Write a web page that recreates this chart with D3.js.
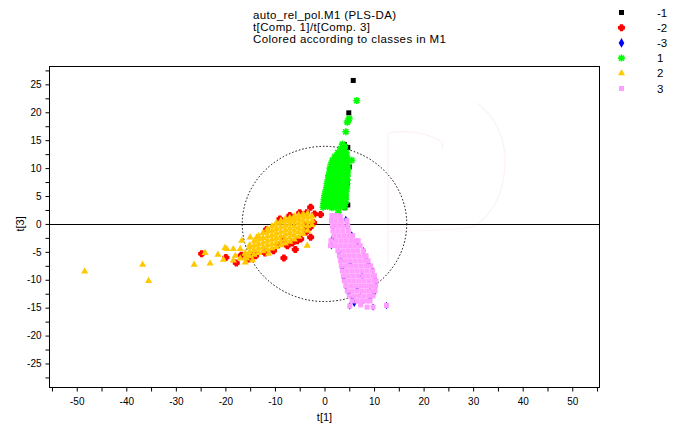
<!DOCTYPE html>
<html><head><meta charset="utf-8">
<script src="https://cdn.jsdelivr.net/npm/d3@7"></script>
<style>body{margin:0;background:#fff} svg{display:block} text{font-family:"Liberation Sans",Arial,sans-serif;fill:#000}</style>
</head><body><svg id="c" width="678" height="427"></svg>
<script>
// ---------- data ----------
const titleLines = ["auto_rel_pol.M1 (PLS-DA)", "t[Comp. 1]/t[Comp. 3]", "Colored according to classes in M1"];
const xLabel = "t[1]";
const yLabel = "t[3]";
const classLabels = ["-1", "-2", "-3", "1", "2", "3"];
const xTickLabels = [-50, -40, -30, -20, -10, 0, 10, 20, 30, 40, 50];
const yTickLabels = [25, 20, 15, 10, 5, 0, -5, -10, -15, -20, -25];
const ellipseRadii = [16.6, 13.9];

const classNeg1 = [[5.8,25.7],[4.9,19.9],[4.0,14.2],[4.7,13.7],[2.3,11.4],[1.8,11.3],[5.0,10.2],[4.3,4.8],[4.1,2.9],[0.6,6.3],[4.6,7.2],[0.4,5.4],[3.9,12.6],[4.7,3.4],[0.1,4.2]];
const classNeg2 = [[-24.8,-5.35],[-19.9,-6.0],[-8.2,-6.1],[-5.9,-4.6],[-2.8,-2.4],[-2.8,3.0],[-0.8,1.7],[-11.7,-1.0],[-14.4,-5.7],[-3.9,-0.3],[-2.9,-0.6],[-5.5,-3.0],[-10.3,-4.8],
  [-9.3,-3.7],[-7.5,-3.9],[-6.5,-3.4],[-8.2,-2.9],[-4.8,-2.7],[-12.0,-5.2],[-3.8,-1.5],[-2.2,0.2],[-2.0,1.8],[-3.6,2.0],[-5.0,2.0],[-13.9,-5.7],[-15.2,-6.3],[-17.8,-7.0],[-16.8,-5.6],[-7.0,1.5],[-9.0,0.9]];
const classNeg3 = [[1.5,1.3],[1.7,-0.5],[1.6,-2.6],[1.4,-3.9],[2.9,-5.0],[3.3,-6.5],[3.6,-8.0],[3.9,-9.8],[4.3,-11.2],[4.9,-12.6],[5.6,-13.5],[6.0,-14.2],[7.6,-14.0],[9.2,-13.5],[10.0,-12.4],[10.4,-11.0],[10.2,-9.6],[9.7,-8.3],[8.9,-7.2],[8.4,-6.0],[7.9,-4.8],[6.7,-3.2],[5.5,-2.0],[4.6,-0.4],[4.3,0.8],[2.9,1.6],[12.5,-14.6],[9.8,-14.9],[5.1,-14.7],[6.6,-11.7],[7.6,-9.3],[5.2,-7.0]];
const class1 = [
  [-0.3,3.0],[0.6,3.1],[1.5,2.9],[2.3,3.0],[3.2,3.1],[4.0,3.0],
  [-0.2,3.7],[0.7,3.8],[1.6,3.6],[2.5,3.7],[3.4,3.8],[4.2,3.7],
  [-0.1,4.4],[0.8,4.5],[1.7,4.3],[2.6,4.4],[3.5,4.5],[4.3,4.4],
  [0.0,5.1],[0.9,5.2],[1.8,5.0],[2.7,5.1],[3.5,5.2],[4.3,5.1],
  [0.2,5.8],[1.1,5.9],[2.0,5.7],[2.9,5.8],[3.7,5.9],[4.4,5.8],
  [0.4,6.5],[1.3,6.6],[2.2,6.4],[3.0,6.5],[3.8,6.6],[4.5,6.5],
  [0.5,7.2],[1.4,7.3],[2.3,7.1],[3.1,7.2],[3.9,7.3],[4.5,7.2],
  [0.7,7.9],[1.6,8.0],[2.4,7.8],[3.2,7.9],[4.0,8.0],[4.6,7.9],
  [0.8,8.6],[1.7,8.7],[2.5,8.5],[3.3,8.6],[4.0,8.7],[4.6,8.6],
  [1.0,9.3],[1.9,9.4],[2.7,9.2],[3.5,9.3],[4.2,9.4],[4.7,9.3],
  [1.1,10.0],[2.0,10.1],[2.8,9.9],[3.6,10.0],[4.3,10.1],[4.7,10.0],
  [1.3,10.7],[2.2,10.8],[3.0,10.6],[3.8,10.7],[4.7,10.7],
  [1.6,11.4],[2.5,11.5],[3.3,11.3],[4.1,11.4],[4.6,11.5],
  [2.1,12.1],[2.9,12.2],[3.7,12.0],[4.5,12.1],
  [2.7,12.8],[3.5,12.9],[4.4,12.8],
  [3.3,13.5],[4.0,13.6],
  [4.1,13.9],[2.5,12.0],[5.5,11.4],[4.3,16.5],[4.8,18.5],[4.6,18.2],[5.0,18.9],[6.5,22.1],[2.8,2.1],[3.6,14.3]];
const class2 = [
  [-16.0,-6.0],[-16.0,-5.2],
  [-15.1,-5.8],[-15.1,-5.0],[-15.1,-4.2],[-15.1,-3.8],
  [-14.2,-5.5],[-14.2,-4.7],[-14.2,-3.9],[-14.2,-3.1],
  [-13.3,-5.2],[-13.3,-4.4],[-13.3,-3.6],[-13.3,-2.8],[-13.3,-2.2],
  [-12.4,-4.9],[-12.4,-4.1],[-12.4,-3.3],[-12.4,-2.5],[-12.4,-1.6],
  [-11.5,-4.6],[-11.5,-3.8],[-11.5,-3.0],[-11.5,-2.2],[-11.5,-1.4],[-11.5,-0.9],
  [-10.6,-4.4],[-10.6,-3.6],[-10.6,-2.8],[-10.6,-2.0],[-10.6,-1.2],[-10.6,-0.4],
  [-9.7,-4.1],[-9.7,-3.3],[-9.7,-2.5],[-9.7,-1.7],[-9.7,-0.9],[-9.7,-0.1],[-9.7,0.2],
  [-8.8,-3.8],[-8.8,-3.0],[-8.8,-2.2],[-8.8,-1.4],[-8.8,-0.6],[-8.8,0.2],[-8.8,0.6],
  [-7.9,-3.5],[-7.9,-2.7],[-7.9,-1.9],[-7.9,-1.1],[-7.9,-0.3],[-7.9,0.5],[-7.9,0.9],
  [-7.0,-3.2],[-7.0,-2.4],[-7.0,-1.6],[-7.0,-0.8],[-7.0,0.0],[-7.0,0.7],[-7.0,1.1],
  [-6.1,-2.8],[-6.1,-2.0],[-6.1,-1.2],[-6.1,-0.4],[-6.1,0.4],[-6.1,1.0],[-6.1,1.4],
  [-5.2,-2.3],[-5.2,-1.5],[-5.2,-0.7],[-5.2,0.1],[-5.2,0.9],[-5.2,1.6],
  [-4.3,-1.8],[-4.3,-1.0],[-4.3,-0.2],[-4.3,0.6],[-4.3,1.3],[-4.3,1.8],
  [-3.4,-1.2],[-3.4,-0.4],[-3.4,0.4],[-3.4,1.2],[-3.4,1.9],
  [-2.5,-0.2],[-2.5,0.6],[-2.5,1.4],
  [-48.4,-8.5],[-36.7,-7.3],[-35.5,-10.2],[-26.3,-7.3],[-23.1,-7.1],[-24.1,-5.2],[-20.4,-6.4],[-20.1,-4.3],[-18.4,-4.5],[-16.7,-3.0],[-16.0,-5.35],[-15.0,-2.4],[-13.7,-2.4],[-3.5,-3.9],[-11.3,-5.35],[-17.0,-6.2],[-18.4,-6.55],[-16.0,-6.9],[-17.0,-4.5],[-18.0,-5.7],[-19.7,-4.5],[-15.7,-6.2],[-21.5,-5.5],[-14.5,-6.5]];
const class3 = [
  [1.5,1.5],[2.4,1.5],[3.2,1.4],
  [1.4,0.6],[2.4,0.6],[3.4,0.6],[4.5,0.6],
  [1.6,-0.3],[2.6,-0.3],[3.6,-0.3],[4.7,-0.3],
  [1.7,-1.2],[2.7,-1.2],[3.7,-1.2],[4.8,-1.2],
  [1.9,-2.1],[2.9,-2.1],[3.9,-2.1],[4.9,-2.1],[5.7,-2.1],
  [1.3,-3.0],[2.3,-3.0],[3.3,-3.0],[4.3,-3.0],[5.3,-3.0],[6.2,-3.0],[6.8,-3.0],
  [1.2,-3.9],[2.2,-3.9],[3.2,-3.9],[4.2,-3.9],[5.2,-3.9],[6.2,-3.9],[7.2,-3.9],
  [2.7,-4.8],[3.7,-4.8],[4.7,-4.8],[5.7,-4.8],[6.7,-4.8],[7.8,-4.8],
  [3.0,-5.7],[4.0,-5.7],[5.0,-5.7],[6.0,-5.7],[7.0,-5.7],[8.0,-5.7],[8.4,-5.7],
  [3.2,-6.6],[4.2,-6.6],[5.2,-6.6],[6.2,-6.6],[7.2,-6.6],[8.2,-6.6],[8.8,-6.6],
  [3.4,-7.5],[4.4,-7.5],[5.4,-7.5],[6.4,-7.5],[7.4,-7.5],[8.4,-7.5],[9.3,-7.5],
  [3.6,-8.4],[4.6,-8.4],[5.6,-8.4],[6.6,-8.4],[7.6,-8.4],[8.6,-8.4],[9.7,-8.4],
  [3.8,-9.3],[4.8,-9.3],[5.8,-9.3],[6.8,-9.3],[7.8,-9.3],[8.8,-9.3],[9.8,-9.3],[10.1,-9.3],
  [4.0,-10.2],[5.0,-10.2],[6.0,-10.2],[7.0,-10.2],[8.0,-10.2],[9.0,-10.2],[10.0,-10.2],[10.4,-10.2],
  [4.3,-11.1],[5.3,-11.1],[6.3,-11.1],[7.3,-11.1],[8.3,-11.1],[9.3,-11.1],[10.3,-11.1],
  [4.6,-12.0],[5.6,-12.0],[6.6,-12.0],[7.6,-12.0],[8.6,-12.0],[9.6,-12.0],[10.2,-12.0],
  [5.0,-12.9],[6.0,-12.9],[7.0,-12.9],[8.0,-12.9],[9.0,-12.9],[9.8,-12.9],
  [5.6,-13.8],[6.6,-13.8],[7.6,-13.8],[8.5,-13.8],[9.2,-13.8],
  [5.1,-14.7],[7.3,-14.5],[8.6,-14.9],[9.8,-14.9],[12.5,-14.6]];

const classColors = ["#000000", "#ff0000", "#0000ff", "#00ff00", "#ffc800", "#ff9eff"];

// ---------- layout ----------
const svg = d3.select("#c");
const x = d3.scaleLinear().domain([-55.5, 55.5]).range([49.5, 599.5]);
const y = d3.scaleLinear().domain([-29.3, 28.2]).range([387.5, 66.5]);

// watermark (faint logo)
svg.append("path")
  .attr("d", "M388,133 L388,263 M388,133 Q420,128 442,142 L443,150 M477,103 Q505,125 505,160 Q505,205 475,226 Q460,231 388,231")
  .attr("fill", "none").attr("stroke", "#fdf1f9").attr("stroke-width", 1.2);

// frame
svg.append("rect").attr("x", x.range()[0]).attr("y", y.range()[1])
  .attr("width", x.range()[1] - x.range()[0]).attr("height", y.range()[0] - y.range()[1])
  .attr("fill", "none").attr("stroke", "#000").attr("stroke-width", 1);

// axes
const xAxis = d3.axisBottom(x).tickValues(d3.range(-55, 55.1, 5)).tickSize(4)
  .tickFormat(d => xTickLabels.includes(d) ? String(d) : "");
const gx = svg.append("g").attr("transform", `translate(0,${y.range()[0]})`).call(xAxis);
gx.select(".domain").remove();
gx.selectAll("text").attr("font-size", 10).attr("font-family", "Liberation Sans, Arial, sans-serif").attr("dy", "1.05em");

const yAxis = d3.axisLeft(y).tickValues(d3.range(-27.5, 27.6, 2.5)).tickSize(4)
  .tickFormat(d => yTickLabels.includes(d) ? String(d) : "");
const gy = svg.append("g").attr("transform", `translate(${x.range()[0]},0)`).call(yAxis);
gy.select(".domain").remove();
gy.selectAll("text").attr("font-size", 10).attr("font-family", "Liberation Sans, Arial, sans-serif").attr("x", -8);

// zero line
svg.append("line").attr("x1", x.range()[0]).attr("x2", x.range()[1])
  .attr("y1", Math.round(y(0)) + 0.5).attr("y2", Math.round(y(0)) + 0.5)
  .attr("stroke", "#000").attr("stroke-width", 1);

// ellipse
svg.append("ellipse").attr("cx", x(0)).attr("cy", y(0))
  .attr("rx", x(ellipseRadii[0]) - x(0)).attr("ry", y(0) - y(ellipseRadii[1]))
  .attr("fill", "none").attr("stroke", "#000").attr("stroke-width", 1).attr("stroke-dasharray", "1.5,2");

// markers
const blobPath = "M-1.5,-3.5L1.5,-3.5L2,-2L3.5,-1.5L3.5,1.5L2,2L1.5,3.5L-1.5,3.5L-2,2L-3.5,1.5L-3.5,-1.5L-2,-2Z";
function drawMarker(g, type, color, legend) {
  if (type === 0 || type === 5) {
    g.append("rect").attr("x", -2.5).attr("y", -2.5).attr("width", 5).attr("height", 5).attr("fill", color);
  } else if (type === 1) {
    g.append("path").attr("d", blobPath).attr("fill", color);
  } else if (type === 2) {
    g.append("path").attr("d", d3.symbol(d3.symbolDiamond, legend ? 28 : 16)()).attr("fill", color);
  } else if (type === 3) {
    g.append("path").attr("d", "M-3.5,0H3.5M0,-3.5V3.5M-2.6,-2.6L2.6,2.6M-2.6,2.6L2.6,-2.6")
      .attr("stroke", color).attr("stroke-width", 1.6).attr("fill", "none");
  } else {
    g.append("path").attr("d", d3.symbol(d3.symbolTriangle, 22)()).attr("fill", color);
  }
}

svg.append("clipPath").attr("id", "clip").append("rect")
  .attr("x", x.range()[0]).attr("y", y.range()[1])
  .attr("width", x.range()[1] - x.range()[0]).attr("height", y.range()[0] - y.range()[1]);
const plot = svg.append("g").attr("clip-path", "url(#clip)");
const allClasses = [classNeg1, classNeg2, classNeg3, class1, class2, class3];
allClasses.forEach((pts, ci) => {
  pts.forEach(p => {
    const g = plot.append("g").attr("transform", `translate(${x(p[0])},${y(p[1])})`);
    drawMarker(g, ci, classColors[ci], false);
  });
});

// titles
const titleWidths = [143, 117, 193];
titleLines.forEach((t, i) => {
  svg.append("text").attr("x", 253).attr("y", 19 + i * 12).attr("font-size", 11.5)
    .attr("textLength", titleWidths[i]).attr("lengthAdjust", "spacing").text(t);
});

// axis labels
svg.append("text").attr("x", x(0)).attr("y", 421).attr("text-anchor", "middle").attr("font-size", 11).text(xLabel);
svg.append("text").attr("transform", `translate(24,${y(0)}) rotate(-90)`).attr("text-anchor", "middle").attr("font-size", 11).text(yLabel);

// legend
classLabels.forEach((lab, i) => {
  const cy = 12.5 + i * 15.2;
  const g = svg.append("g").attr("transform", `translate(621.5,${cy})`);
  drawMarker(g, i, classColors[i], true);
  svg.append("text").attr("x", 657).attr("y", cy + 4).attr("font-size", 11.5).text(lab);
});
</script></body></html>
